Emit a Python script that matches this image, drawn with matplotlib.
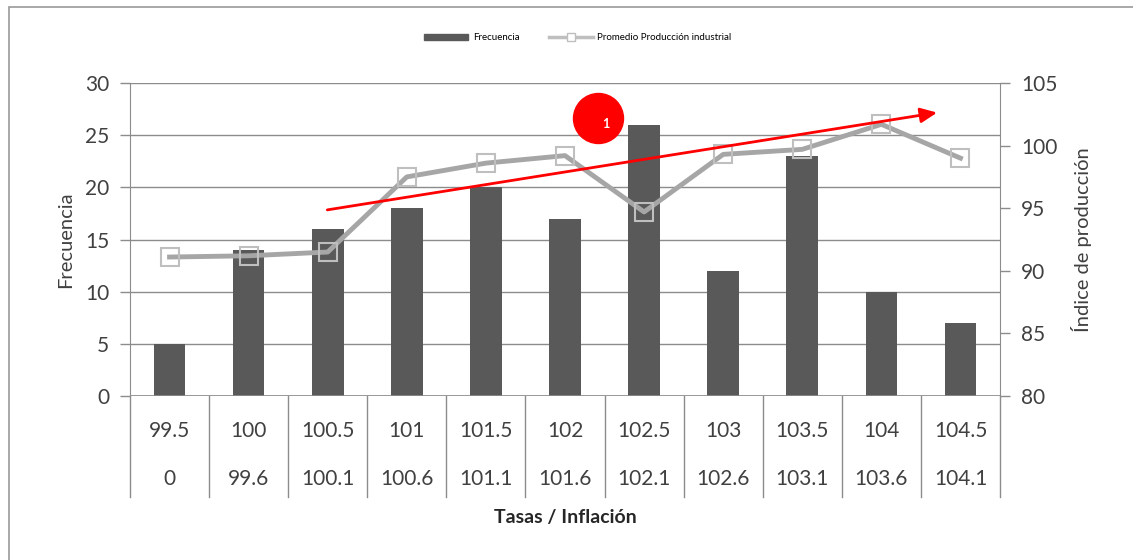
import matplotlib.pyplot as plt
from matplotlib.patches import Rectangle
from matplotlib.lines import Line2D
import numpy as np

plt.rcParams['font.family'] = ['Lato', 'DejaVu Sans']

# categories (two label rows of the table under the chart)
upper_labels = ['99.5', '100', '100.5', '101', '101.5', '102', '102.5', '103', '103.5', '104', '104.5']
lower_labels = ['0', '99.6', '100.1', '100.6', '101.1', '101.6', '102.1', '102.6', '103.1', '103.6', '104.1']

frecuencia = [5, 14, 16, 18, 20, 17, 26, 12, 23, 10, 7]
produccion = [91.1, 91.2, 91.5, 97.5, 98.6, 99.2, 94.7, 99.3, 99.7, 101.7, 99.0]

TXT = '#404040'
GRID = '#8c8c8c'

fig = plt.figure(figsize=(11.33, 5.6), dpi=100, facecolor='white')
ax = fig.add_axes([130/1133, 1-396/560, 870/1133, 313/560])
ax2 = ax.twinx()

x = np.arange(len(frecuencia))
ax.bar(x, frecuencia, width=0.4, color='#595959', zorder=2)
ax.set_xlim(-0.5, len(x)-0.5)
ax.set_ylim(0, 30)
ax.set_yticks(range(0, 31, 5))
ax.yaxis.grid(True, color=GRID, lw=1)
ax.set_axisbelow(True)
ax.set_xticks([])
for s in ['top', 'right', 'bottom']:
    ax.spines[s].set_visible(False)
ax.spines['left'].set_color(GRID)
ax.tick_params(axis='y', colors=GRID, labelcolor=TXT, labelsize=15, length=7, width=1, pad=8)
ax.set_ylabel('Frecuencia', fontsize=14.5, color=TXT, labelpad=8)

ax2.plot(x, produccion, color='#a6a6a6', lw=3.5, marker='s', markersize=13,
         markerfacecolor='none', markeredgecolor='#bfbfbf', markeredgewidth=1.5, zorder=3)
ax2.set_ylim(80, 105)
ax2.set_yticks(range(80, 106, 5))
for s in ['top', 'left', 'bottom']:
    ax2.spines[s].set_visible(False)
ax2.spines['right'].set_color(GRID)
ax2.tick_params(axis='y', colors=GRID, labelcolor=TXT, labelsize=15, length=7, width=1, pad=8)
ax2.set_ylabel('Índice de producción', fontsize=14.5, color=TXT, labelpad=10)

# table below the chart
tr = ax.get_xaxis_transform()
ax.axhline(0, color=GRID, lw=1.2, zorder=3)
for b in np.arange(-0.5, len(x), 1.0):
    ax.plot([b, b], [0, -0.323], transform=tr, color=GRID, lw=1, clip_on=False)
for i in x:
    ax.text(i, -0.112, upper_labels[i], transform=tr, ha='center', va='center', fontsize=15, color=TXT)
    ax.text(i, -0.265, lower_labels[i], transform=tr, ha='center', va='center', fontsize=15, color=TXT)
ax.text(0.5, -0.387, 'Tasas / Inflación', transform=ax.transAxes, ha='center', va='center',
        fontsize=14, fontweight='bold', color='#262626')

# trend arrow and marker (on top of the line)
ax2.annotate('', xy=(9.74, 102.67), xytext=(1.96, 94.83),
             arrowprops=dict(arrowstyle='-|>,head_length=1.0,head_width=0.45', color='#ff0000', lw=2),
             zorder=5)
ax2.plot(5.42, 102.2, 'o', markersize=36, color='#ff0000', zorder=6, clip_on=False)
ax2.text(5.51, 101.75, '1', fontsize=9, fontweight='bold', color='white', ha='center', va='center', zorder=7)

# legend
handles = [Rectangle((0, 0), 1, 1, color='#595959'),
           Line2D([], [], color='#bfbfbf', lw=2.5, marker='s', markersize=6,
                  markerfacecolor='white', markeredgecolor='#bfbfbf')]
fig.legend(handles, ['Frecuencia', 'Promedio Producción industrial'], loc='center',
           bbox_to_anchor=(578/1133, 1-38/560), ncol=2, frameon=False, fontsize=7,
           handlelength=4.5, handleheight=0.6, columnspacing=3, handletextpad=0.5)

# outer frame
fig.add_artist(Rectangle((9/1133, -0.1), 1.2, 1-7/560+0.1, transform=fig.transFigure,
                         fill=False, edgecolor='#999999', lw=1.2))

fig.savefig('out.png', dpi=100)
